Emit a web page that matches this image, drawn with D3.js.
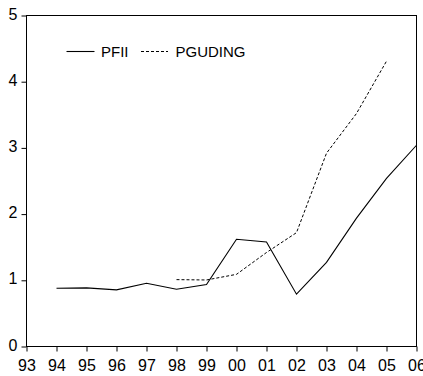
<!DOCTYPE html>
<html>
<head>
<meta charset="utf-8">
<script src="https://cdn.jsdelivr.net/npm/d3@7"></script>
<style>
  html, body { margin: 0; padding: 0; background: #fff; }
  svg { display: block; }
  text { font-family: Arial, "Liberation Sans", sans-serif; fill: #000; }
</style>
</head>
<body>
<svg id="chart" width="423" height="376"></svg>
<script>
// ---- data ----
const years = [1993, 1994, 1995, 1996, 1997, 1998, 1999, 2000, 2001, 2002, 2003, 2004, 2005, 2006];
const tickLabels = ["93","94","95","96","97","98","99","00","01","02","03","04","05","06"];
const pfiiYears = [1994, 1995, 1996, 1997, 1998, 1999, 2000, 2001, 2002, 2003, 2004, 2005, 2006];
const pfiiValues = [0.88, 0.885, 0.855, 0.955, 0.865, 0.935, 1.62, 1.58, 0.79, 1.27, 1.94, 2.54, 3.04];
const pgudingYears = [1998, 1999, 2000, 2001, 2002, 2003, 2004, 2005];
const pgudingValues = [1.01, 1.005, 1.09, 1.42, 1.72, 2.92, 3.52, 4.31];
const yTicks = [0, 1, 2, 3, 4, 5];
const seriesNames = ["PFII", "PGUDING"];

// ---- layout ----
const svg = d3.select("#chart");
const plotL = 26.5, plotR = 416.5, plotT = 15.5, plotB = 346.5;

const x = d3.scaleLinear().domain([1993, 2006]).range([plotL, plotR]);
const y = d3.scaleLinear().domain([0, 5]).range([plotB, plotT]);

// frame
svg.append("rect")
  .attr("x", plotL).attr("y", plotT)
  .attr("width", plotR - plotL).attr("height", plotB - plotT)
  .attr("fill", "none").attr("stroke", "#000").attr("stroke-width", 1);

// x axis
const xAxis = svg.append("g")
  .attr("transform", `translate(0,${plotB})`)
  .call(d3.axisBottom(x).tickValues(years)
    .tickFormat((d, i) => tickLabels[i])
    .tickSize(5).tickPadding(8).tickSizeOuter(0));
xAxis.select(".domain").remove();
xAxis.selectAll("text").style("font-size", "16px").attr("font-family", null);
xAxis.selectAll("line").attr("stroke", "#000");

// y axis
const yAxis = svg.append("g")
  .attr("transform", `translate(${plotL},0)`)
  .call(d3.axisLeft(y).tickValues(yTicks).tickFormat(d3.format("d"))
    .tickSize(5).tickPadding(4).tickSizeOuter(0));
yAxis.select(".domain").remove();
yAxis.selectAll("text").style("font-size", "16px").attr("dy", "0.22em").attr("font-family", null);
yAxis.selectAll("line").attr("stroke", "#000");

// lines
const lineGen = d3.line().x(d => x(d[0])).y(d => y(d[1]));
svg.append("path")
  .datum(pfiiYears.map((yr, i) => [yr, pfiiValues[i]]))
  .attr("d", lineGen)
  .attr("fill", "none").attr("stroke", "#000").attr("stroke-width", 1.1);
svg.append("path")
  .datum(pgudingYears.map((yr, i) => [yr, pgudingValues[i]]))
  .attr("d", lineGen)
  .attr("fill", "none").attr("stroke", "#000").attr("stroke-width", 1)
  .attr("stroke-dasharray", "3,2");

// legend
const lg = svg.append("g");
lg.append("line").attr("x1", 66.5).attr("x2", 94.5).attr("y1", 51.5).attr("y2", 51.5)
  .attr("stroke", "#000").attr("stroke-width", 1.1);
lg.append("text").attr("x", 101).attr("y", 56.8).style("font-size", "15px").text(seriesNames[0]);
lg.append("line").attr("x1", 141).attr("x2", 168).attr("y1", 51.5).attr("y2", 51.5)
  .attr("stroke", "#000").attr("stroke-width", 1).attr("stroke-dasharray", "3,2");
lg.append("text").attr("x", 175.5).attr("y", 56.8).style("font-size", "15px").text(seriesNames[1]);
</script>
</body>
</html>
